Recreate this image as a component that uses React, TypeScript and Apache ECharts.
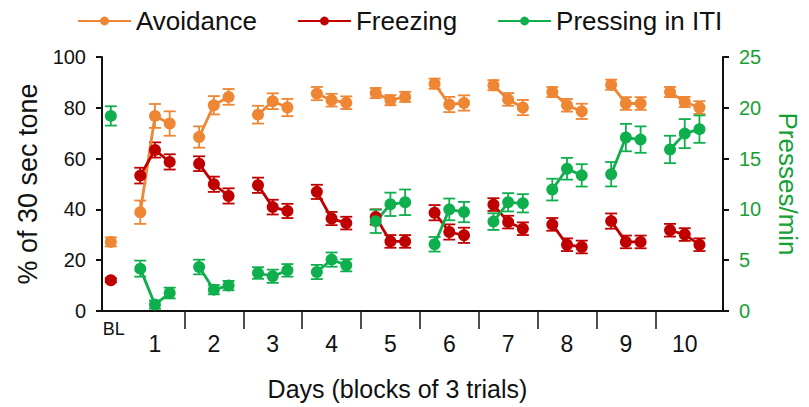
import React, { useEffect, useRef } from 'react';
import * as echarts from 'echarts';

// ---------- data ----------
const dayLabels = ['1', '2', '3', '4', '5', '6', '7', '8', '9', '10'];
const baselineLabel = 'BL';
const seriesNames = ['Avoidance', 'Freezing', 'Pressing in ITI'];
const leftAxisName = '% of 30 sec tone';
const rightAxisName = 'Presses/min';
const xAxisName = 'Days (blocks of 3 trials)';

// baseline values (mean, sem)
const avoidanceBL = [27.2, 1.8];
const freezingBL = [12.1, 0.8];
const pressingBL = [19.2, 0.95];

// 10 days x 3 trial blocks
const avoidance = [
  38.9, 76.8, 73.8,
  68.5, 81.0, 84.3,
  77.3, 82.6, 80.1,
  85.6, 83.0, 82.0,
  85.8, 83.0, 84.3,
  89.5, 81.3, 81.9,
  88.9, 83.3, 80.1,
  86.2, 81.0, 78.6,
  89.1, 81.7, 81.7,
  86.2, 82.3, 80.1,
];
const avoidanceErr = [
  4.6, 4.7, 4.8,
  4.2, 3.6, 3.1,
  3.5, 3.1, 3.4,
  2.6, 2.5, 2.5,
  2.0, 2.0, 2.0,
  2.0, 3.0, 3.0,
  2.0, 2.5, 3.0,
  2.0, 2.5, 3.0,
  2.0, 2.5, 2.5,
  2.0, 2.0, 2.5,
];
const freezing = [
  53.3, 63.4, 58.7,
  58.0, 49.9, 45.3,
  49.5, 40.9, 39.4,
  46.9, 36.4, 34.6,
  37.0, 27.4, 27.4,
  38.7, 31.1, 29.8,
  41.9, 35.0, 32.4,
  34.1, 26.1, 25.2,
  35.4, 27.2, 27.2,
  31.8, 30.1, 26.1,
];
const freezingErr = [
  3.1, 3.0, 3.0,
  2.9, 3.0, 3.0,
  3.0, 2.9, 2.8,
  2.8, 2.6, 2.5,
  3.0, 2.5, 2.5,
  3.0, 3.0, 3.0,
  2.5, 2.5, 2.5,
  2.5, 2.5, 2.5,
  3.0, 2.5, 2.5,
  2.5, 2.5, 2.5,
];
const pressing = [
  4.17, 0.63, 1.77,
  4.33, 2.1, 2.5,
  3.74, 3.42, 4.0,
  3.84, 5.06, 4.5,
  8.83, 10.5, 10.7,
  6.57, 10.0, 9.74,
  8.8, 10.7, 10.6,
  11.95, 14.0, 13.35,
  13.46, 17.07, 16.87,
  15.9, 17.46, 17.9,
];
const pressingErr = [
  0.79, 0.4, 0.53,
  0.72, 0.46, 0.46,
  0.57, 0.65, 0.62,
  0.7, 0.7, 0.6,
  1.15, 1.15, 1.26,
  0.72, 1.07, 1.0,
  0.82, 0.9, 0.9,
  1.07, 1.07, 1.1,
  1.2, 1.35, 1.3,
  1.35, 1.43, 1.35,
];

const leftMax = 100;
const leftInterval = 20;
const rightMax = 25;
const rightInterval = 5;

// ---------- styling ----------
const ORANGE = '#EE8634';
const RED = '#C00000';
const GREEN = '#0FAF4E';
const GREEN_TEXT = '#17A034';
const FONT = '"Liberation Sans", Arial, sans-serif';

// position on the x scale: BL at 1, day d (1-based) trial t at 4d + t - 1
const blPos = 1;
const pos = (dayIdx: number, t: number) => 4 * (dayIdx + 1) + t - 1;
const dayCenters = dayLabels.map((_, i) => pos(i, 1));
const dividers = dayLabels.slice(1).map((_, i) => pos(i, 2) + 1);

function lineData(bl: number[], vals: number[]) {
  const out: any[] = [[blPos, bl[0]], [blPos + 1, '-']];
  dayLabels.forEach((_, d) => {
    for (let t = 0; t < 3; t++) out.push([pos(d, t), vals[d * 3 + t]]);
    out.push([pos(d, 2) + 1, '-']);
  });
  return out;
}

function errData(bl: number[], vals: number[], errs: number[]) {
  const out: number[][] = [[blPos, bl[0] - bl[1], bl[0] + bl[1]]];
  dayLabels.forEach((_, d) => {
    for (let t = 0; t < 3; t++) {
      const v = vals[d * 3 + t];
      const e = errs[d * 3 + t];
      out.push([pos(d, t), v - e, v + e]);
    }
  });
  return out;
}

function errorSeries(data: number[][], color: string, yAxisIndex: number) {
  return {
    type: 'custom',
    yAxisIndex,
    silent: true,
    data,
    encode: { x: 0, y: [1, 2] },
    renderItem: (params: any, api: any) => {
      const x = api.value(0);
      const lo = api.coord([x, api.value(1)]);
      const hi = api.coord([x, api.value(2)]);
      const hw = 6;
      const style = { stroke: color, lineWidth: 1.8, fill: null };
      return {
        type: 'group',
        children: [
          { type: 'line', shape: { x1: lo[0], y1: lo[1], x2: hi[0], y2: hi[1] }, style },
          { type: 'line', shape: { x1: lo[0] - hw, y1: lo[1], x2: lo[0] + hw, y2: lo[1] }, style },
          { type: 'line', shape: { x1: hi[0] - hw, y1: hi[1], x2: hi[0] + hw, y2: hi[1] }, style },
        ],
      };
    },
  };
}

function lineSeries(name: string, data: any[], color: string, yAxisIndex: number) {
  return {
    type: 'line',
    name,
    yAxisIndex,
    data,
    connectNulls: false,
    symbol: 'circle',
    symbolSize: 12,
    itemStyle: { color },
    lineStyle: { color, width: 2.8 },
  };
}

export default function App() {
  const ref = useRef<HTMLDivElement>(null);

  useEffect(() => {
    if (!ref.current) return;
    const chart = echarts.init(ref.current, null, { renderer: 'svg' });
    const xMin = 0.4;
    const xMax = 42.6;
    chart.setOption({
      animation: false,
      backgroundColor: '#ffffff',
      textStyle: { fontFamily: FONT },
      legend: {
        data: seriesNames,
        left: 72,
        top: 3,
        itemWidth: 53,
        itemHeight: 11,
        itemGap: 40,
        textStyle: { fontSize: 26, color: '#111', fontFamily: FONT },
      },
      grid: { left: 102, right: 76, top: 57, bottom: 96 },
      xAxis: [
        {
          type: 'value',
          min: xMin,
          max: xMax,
          name: xAxisName,
          nameLocation: 'middle',
          nameGap: 65,
          nameTextStyle: { fontSize: 25, color: '#111', fontFamily: FONT, padding: [0, 30, 0, 0] },
          axisLine: { show: true, lineStyle: { color: '#111', width: 2 } },
          axisTick: { show: true, customValues: dividers, length: 18, lineStyle: { color: '#222', width: 1.6 } },
          axisLabel: {
            customValues: dayCenters,
            formatter: (v: number) => dayLabels[Math.round(v / 4) - 1] ?? '',
            fontSize: 23,
            color: '#111',
            margin: 21,
            fontFamily: FONT,
          },
          splitLine: { show: false },
        },
        {
          type: 'value',
          min: xMin,
          max: xMax,
          position: 'bottom',
          axisLine: { show: false },
          axisTick: { show: false },
          axisLabel: {
            customValues: [blPos + 0.2],
            formatter: () => baselineLabel,
            fontSize: 18,
            color: '#111',
            margin: 9,
            fontFamily: FONT,
          },
          splitLine: { show: false },
        },
      ],
      yAxis: [
        {
          type: 'value',
          min: 0,
          max: leftMax,
          interval: leftInterval,
          name: leftAxisName,
          nameLocation: 'middle',
          nameRotate: 90,
          nameGap: 58,
          nameTextStyle: { fontSize: 27, color: '#111', fontFamily: FONT },
          axisLine: { show: true, lineStyle: { color: '#111', width: 2 } },
          axisTick: { show: true, length: 6, lineStyle: { color: '#111', width: 2 } },
          axisLabel: { fontSize: 20, color: '#111', margin: 16, fontFamily: FONT },
          splitLine: { show: false },
        },
        {
          type: 'value',
          min: 0,
          max: rightMax,
          interval: rightInterval,
          position: 'right',
          name: rightAxisName,
          nameLocation: 'middle',
          nameRotate: -90,
          nameGap: 52,
          nameTextStyle: { fontSize: 26, color: GREEN_TEXT, fontFamily: FONT },
          axisLine: { show: true, lineStyle: { color: '#111', width: 2 } },
          axisTick: { show: true, length: 6, lineStyle: { color: '#111', width: 2 } },
          axisLabel: { fontSize: 20, color: GREEN_TEXT, margin: 16, fontFamily: FONT },
          splitLine: { show: false },
        },
      ],
      series: [
        errorSeries(errData(avoidanceBL, avoidance, avoidanceErr), ORANGE, 0),
        lineSeries(seriesNames[0], lineData(avoidanceBL, avoidance), ORANGE, 0),
        errorSeries(errData(freezingBL, freezing, freezingErr), RED, 0),
        lineSeries(seriesNames[1], lineData(freezingBL, freezing), RED, 0),
        errorSeries(errData(pressingBL, pressing, pressingErr), GREEN, 1),
        lineSeries(seriesNames[2], lineData(pressingBL, pressing), GREEN, 1),
      ],
    });
    return () => chart.dispose();
  }, []);

  return <div ref={ref} style={{ width: 809, height: 407, position: 'absolute', left: 0, top: 0 }} />;
}
